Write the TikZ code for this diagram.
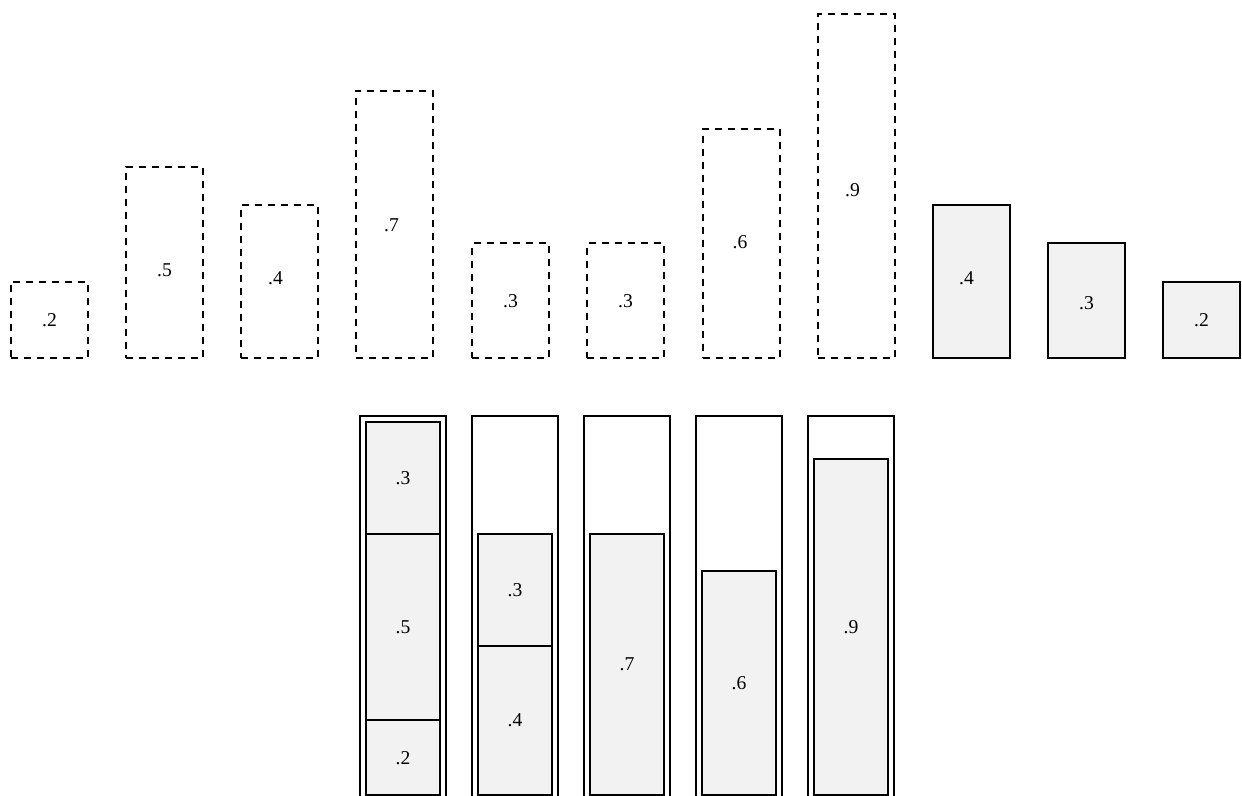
\documentclass[tikz,border=0pt]{standalone}
\usepackage{fontspec}
\setmainfont{Liberation Serif}
\usetikzlibrary{positioning}

\begin{document}
\begin{tikzpicture}[x=0.5pt, y=0.5pt,
    every label/.style={font=\fontsize{9.8}{12}\selectfont},
    item/.style={draw, line width=1pt, inner sep=0pt, outer sep=0pt,
      anchor=south west, minimum width=38.5pt, font=\fontsize{9.8}{12}\selectfont},
    todo/.style={item, dash pattern=on 3.5pt off 3pt},
    done/.style={item, fill=black!5},
    bin/.style={draw, line width=1pt, inner sep=0pt, outer sep=0pt, anchor=south west,
      minimum width=43pt, minimum height=192.5pt},
    packed/.style={item, fill=black!5, minimum width=37pt}]
  \useasboundingbox (0,0) rectangle (1242,796);
  \clip (0,0) rectangle (1242,796);
  % items still to pack
  \foreach \v/\x/\dx/\dy [count=\i] in {2/11/0/0, 5/126/0/-4, 4/241/-2/1.5,
      7/356/-1.5/-0.5, 3/472/0/0, 3/587/0/0, 6/703/-0.75/0.5, 9/818/-2/-2}
    \node[todo, minimum height=\v*19.1pt,
      label={[xshift=\dx pt, yshift=\dy pt]center:.\v}] (t\i) at (\x,438) {};
  \foreach \v/\x/\dx/\dy [count=\i from 9] in {4/933/-2.5/1.5, 3/1048/0/-1, 2/1163/0/0}
    \node[done, minimum height=\v*19.1pt,
      label={[xshift=\dx pt, yshift=\dy pt]center:.\v}] (t\i) at (\x,438) {};
  % bins
  \foreach \j in {1,...,5}
    \node[bin] (bin\j) at ({360+112*(\j-1)},-5) {};
  \node[packed, minimum height=37.3pt] (p1a) at (366,1) {.2};
  \node[packed, minimum height=93.25pt, above=0pt of p1a] (p1b) {.5};
  \node[packed, minimum height=55.95pt, above=0pt of p1b] (p1c) {.3};
  \node[packed, minimum height=74.6pt] (p2a) at (478,1) {.4};
  \node[packed, minimum height=55.95pt, above=0pt of p2a] (p2b) {.3};
  \node[packed, minimum height=130.55pt] (p3) at (590,1) {.7};
  \node[packed, minimum height=111.9pt] (p4) at (702,1) {.6};
  \node[packed, minimum height=167.85pt] (p5) at (814,1) {.9};
\end{tikzpicture}
\end{document}
